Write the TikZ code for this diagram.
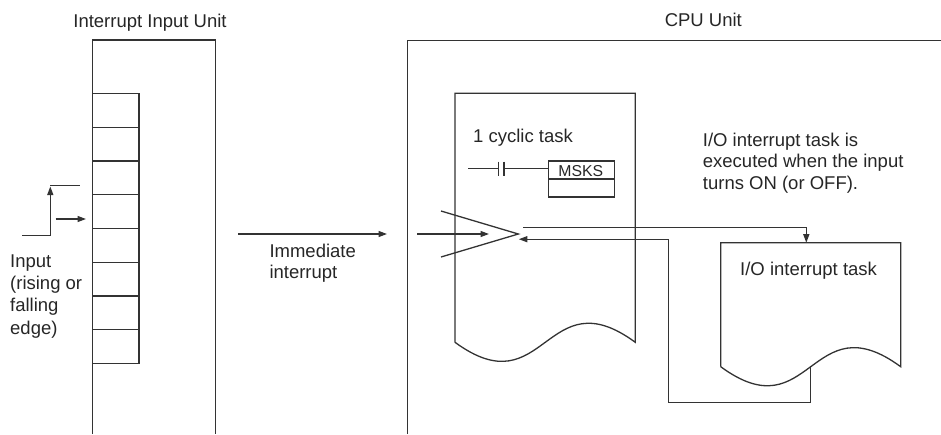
\documentclass[tikz,border=0pt]{standalone}
\usepackage{fontspec}
\setmainfont{Liberation Sans}
\usetikzlibrary{arrows.meta}
\begin{document}
\begin{tikzpicture}[x=1pt,y=-1pt]
\tikzset{
  ln/.style={line width=1.3pt, draw=black!80, line join=miter},
  arr/.style={ln, -{Triangle[length=8.5pt,width=6pt]}},
  lbl/.style={font=\fontsize{18.5}{22}\selectfont, text=black!85, inner sep=0pt, align=left},
}
\useasboundingbox (0,0) rectangle (941,434);
% ---------- Interrupt Input Unit ----------
\node[lbl, anchor=base] (iiutitle) at (150,27) {Interrupt Input Unit};
\coordinate (iiuBL) at (92.7,434);
\coordinate (iiuTL) at (92.7,40);
\coordinate (iiuTR) at (215.3,40);
\coordinate (iiuBR) at (215.3,434);
\draw[ln] (iiuBL) -- (iiuTL) -- (iiuTR) -- (iiuBR);
\foreach \i in {0,...,7}{
  \draw[ln] (92.7,{93.7+\i*33.7}) rectangle (139,{93.7+(\i+1)*33.7});
}
% input signal
\coordinate (sigA) at (22,235.3);
\coordinate (sigB) at (50.3,235.3);
\coordinate (sigC) at (50.3,186.5);
\coordinate (sigD) at (50.3,185.7);
\coordinate (sigE) at (80.3,185.7);
\draw[arr] (sigA) -- (sigB) -- (sigC);
\draw[ln] (sigD) -- (sigE);
\coordinate (inA) at (55.7,219);
\coordinate (inB) at (86,219);
\draw[arr] (inA) -- (inB);
\node[lbl, anchor=base west, font=\fontsize{18.5}{22.3}\selectfont] (inputlbl) at (10,334) {Input\\(rising or\\falling\\edge)};
% immediate interrupt
\coordinate (imA) at (238.3,234);
\coordinate (imB) at (387,234);
\draw[arr] (imA) -- (imB);
\node[lbl, anchor=base west, font=\fontsize{18.5}{20.8}\selectfont] (imlbl) at (269.3,278.5) {Immediate\\interrupt};
% ---------- CPU Unit ----------
\node[lbl, anchor=base] (cputitle) at (703.3,26) {CPU Unit};
\coordinate (cpuBL) at (407.3,434);
\coordinate (cpuTL) at (407.3,40.3);
\coordinate (cpuTR) at (941,40.3);
\draw[ln] (cpuBL) -- (cpuTL) -- (cpuTR);
% cyclic task document
\draw[ln] (455,342.3) -- (455,93.3) -- (635.3,93.3) -- (635.3,342.3)
  .. controls (545.3,276.3) and (545.3,408.3) .. (455,342.3);
\node[lbl, anchor=base west] (cyclbl) at (473,142) {1 cyclic task};
% ladder
\coordinate (ctA) at (468,168.3);
\coordinate (ctB) at (498.5,168.3);
\coordinate (ctC) at (504,168.3);
\coordinate (ctD) at (548.3,168.3);
\draw[ln] (ctA) -- (ctB);
\draw[ln] (498.5,161.7) -- (498.5,175.5);
\draw[ln] (504,161.7) -- (504,175.5);
\draw[ln] (ctC) -- (ctD);
\draw[ln] (548.3,161) rectangle (614.7,197);
\draw[ln] (548.3,179) -- (614.7,179);
\node[lbl, anchor=base, font=\fontsize{15.8}{18}\selectfont] (msks) at (580.8,176.3) {MSKS};
% wedge
\coordinate (wgT) at (441,211);
\coordinate (wgApex) at (518.3,234);
\coordinate (wgB) at (441,257);
\draw[ln] (wgT) -- (wgApex) -- (wgB);
\coordinate (wiA) at (417,234);
\coordinate (wiB) at (489,234);
\draw[arr] (wiA) -- (wiB);
% I/O interrupt task document
\draw[ln] (720.7,366.7) -- (720.7,242.7) -- (900.7,242.7) -- (900.7,366.7)
  .. controls (810.7,300.7) and (810.7,432.7) .. (720.7,366.7);
\node[lbl, anchor=base west] (iolbl) at (740,275) {I/O interrupt task};
\node[lbl, anchor=base west, font=\fontsize{18.5}{21.2}\selectfont] (ionote) at (702.7,189.1) {I/O interrupt task is\\executed when the input\\turns ON (or OFF).};
% connectors
\coordinate (goA) at (523.3,227.8);
\coordinate (goB) at (806.3,227.8);
\coordinate (goC) at (806.3,242.7);
\draw[arr] (goA) -- (goB) -- (goC);
\coordinate (rtA) at (810.7,366.7);
\coordinate (rtB) at (810.7,402.7);
\coordinate (rtC) at (668.7,402.7);
\coordinate (rtD) at (668.7,239.2);
\coordinate (rtE) at (518.8,239.2);
\draw[arr] (rtA) -- (rtB) -- (rtC) -- (rtD) -- (rtE);
\end{tikzpicture}
\end{document}
